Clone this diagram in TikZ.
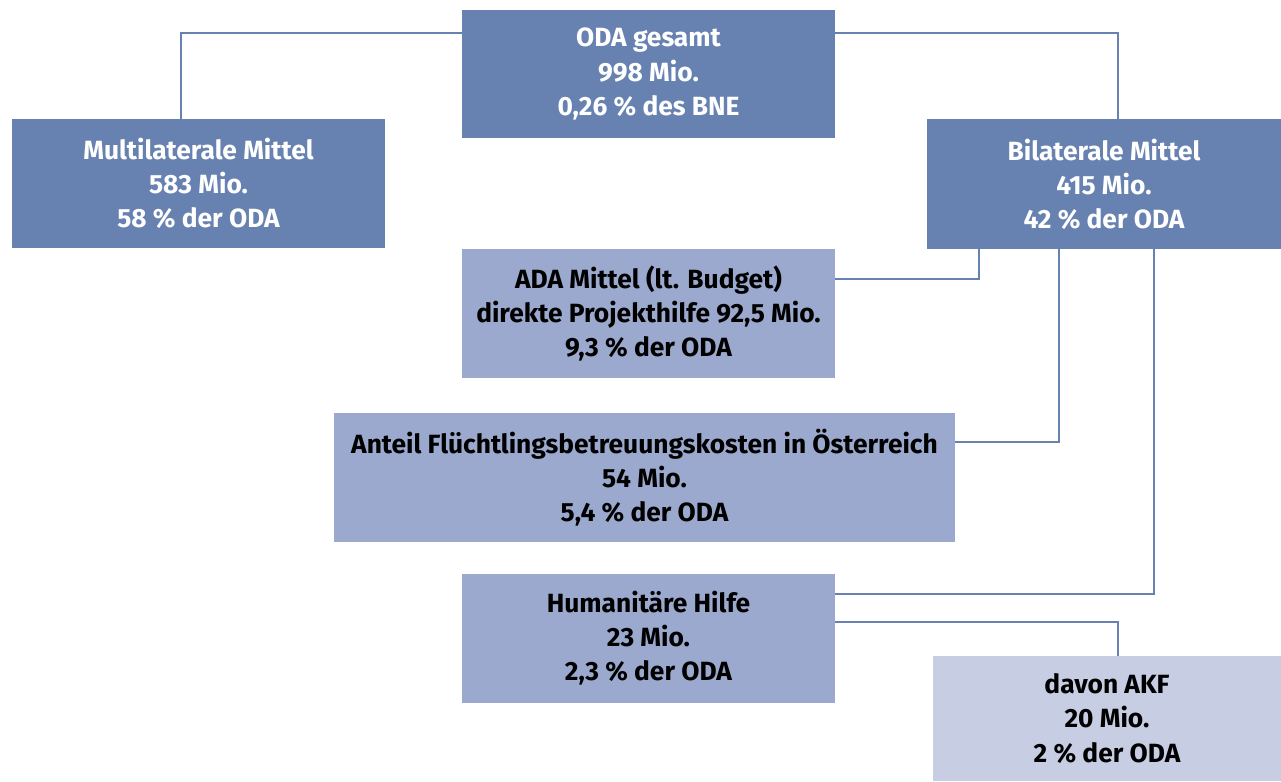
\documentclass[tikz,border=0pt]{standalone}
\usepackage{fontspec}
\setmainfont{Fira Sans}
\usetikzlibrary{positioning}
\definecolor{boxdark}{HTML}{6782B1}
\definecolor{boxmid}{HTML}{9AA9CD}
\definecolor{boxlight}{HTML}{C7CDE2}

\begin{document}
\begin{tikzpicture}[x=0.02cm, y=-0.02cm,
	box/.style = {rectangle, inner sep=0pt, align=center, font=\fontsize{15}{19.4}\selectfont\bfseries},
	dark/.style = {box, fill=boxdark, text=white},
	mid/.style = {box, fill=boxmid, text=black},
	pale/.style = {box, fill=boxlight, text=black},
	link/.style = {draw=boxdark, line width=1.3pt}]
	\useasboundingbox (0,0) rectangle (1281,781);
	% top row
	\node[dark, minimum width=7.46cm, minimum height=2.56cm] (oda) at (648.5,74) {ODA gesamt\\998 Mio.\\0,26 \% des BNE};
	\node[dark, minimum width=7.46cm, minimum height=2.58cm] (multi) at (198.5,183.5) {Multilaterale Mittel\\583 Mio.\\58 \% der ODA};
	\node[dark, minimum width=7.08cm, minimum height=2.6cm] (bi) at (1104,184) {Bilaterale Mittel\\415 Mio.\\42 \% der ODA};
	% bilateral part
	\node[mid, minimum width=7.46cm, minimum height=2.58cm] (ada) at (648.5,313.5) {ADA Mittel (lt. Budget)\\direkte Projekthilfe 92,5 Mio.\\9,3 \% der ODA};
	\node[mid, minimum width=12.42cm, minimum height=2.58cm] (fluecht) at (644.5,477.5) {Anteil Flüchtlingsbetreuungskosten in Österreich\\54 Mio.\\5,4 \% der ODA};
	\node[mid, minimum width=7.46cm, minimum height=2.58cm] (huhi) at (648.5,638.5) {Humanitäre Hilfe\\23 Mio.\\2,3 \% der ODA};
	\node[pale, minimum width=6.96cm, minimum height=2.5cm] (akf) at (1107,718.5) {davon AKF\\20 Mio.\\2 \% der ODA};

	\draw[link] (oda.west |- 0,33) -| (multi.north -| 181,0);
	\draw[link] (oda.east |- 0,33) -| (bi.north -| 1118,0);
	\draw[link] (bi.south -| 979,0) |- (ada.east |- 0,279);
	\draw[link] (bi.south -| 1059,0) |- (fluecht.east |- 0,442);
	\draw[link] (bi.south -| 1154,0) |- (huhi.east |- 0,594);
	\draw[link] (huhi.east |- 0,622) -| (akf.north -| 1118,0);
\end{tikzpicture}
\end{document}
